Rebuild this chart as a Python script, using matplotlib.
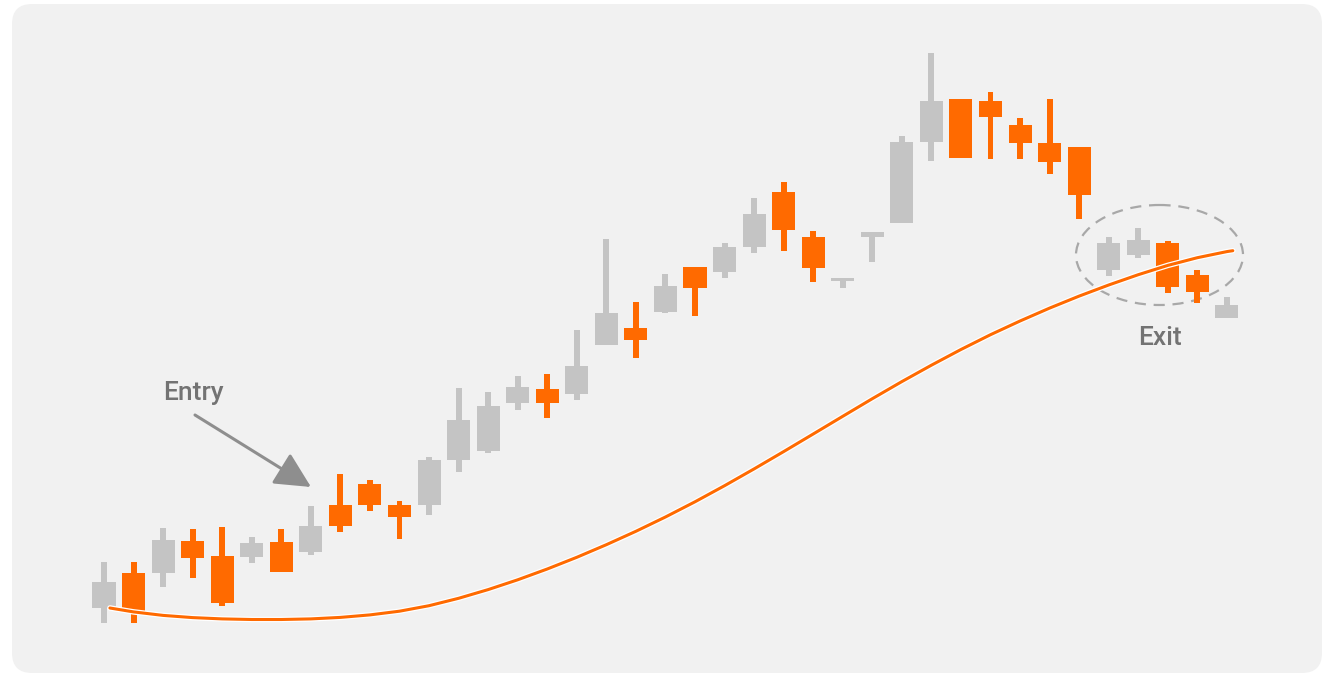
import matplotlib.pyplot as plt
import matplotlib.patheffects as pe
from matplotlib.patches import FancyBboxPatch, Ellipse

plt.rcParams['font.family'] = ['Roboto', 'DejaVu Sans']

# Candle data (price units)
opens  = [68, 103, 103, 135, 120, 119, 134, 124, 171, 192, 171, 171, 216, 225, 273, 287, 282, 331, 348, 364,
          409, 404, 429, 484, 439, 395, 439, 453, 534, 577, 575, 551, 533, 529, 406, 421, 433, 401, 358]
highs  = [114, 114, 148, 147, 149, 139, 147, 170, 202, 196, 175, 219, 288, 284, 300, 302, 346, 437, 374, 402,
          409, 433, 478, 494, 445, 398, 444, 540, 623, 577, 584, 558, 577, 529, 439, 448, 435, 406, 379]
lows   = [53, 53, 89, 98, 70, 113, 104, 121, 144, 165, 137, 161, 204, 223, 266, 258, 276, 331, 318, 363,
          360, 398, 423, 425, 394, 388, 414, 453, 515, 518, 517, 517, 502, 457, 400, 418, 383, 373, 358]
closes = [94, 65, 136, 118, 73, 133, 104, 150, 150, 171, 159, 216, 256, 270, 289, 273, 310, 363, 336, 390,
          388, 429, 462, 446, 408, 398, 444, 534, 575, 518, 559, 533, 514, 481, 433, 436, 389, 384, 371]

# Moving average curve
ma_x = [0.2] + list(range(1, 39)) + [38.2]
ma_y = [68, 64.1, 60.6, 58.4, 57.1, 56.5, 56.5, 57.1, 58.6, 61.1, 64.8, 70.3, 77.7, 86.4, 96.2, 107.0,
        118.7, 131.3, 144.7, 159.0, 174.2, 190.3, 207.1, 224.4, 242.0, 259.7, 277.3, 294.4, 310.8, 326.5,
        341.3, 355.0, 367.9, 379.9, 391.0, 401.3, 410.6, 418.3, 424.4, 425.3]

up_color = '#c4c4c4'
down_color = '#ff6a00'

fig = plt.figure(figsize=(13.28, 6.76), dpi=100)
fig.patch.set_facecolor('white')

# background panel + annotations, in pixel coords
bg = fig.add_axes([0, 0, 1, 1])
bg.set_xlim(0, 1328)
bg.set_ylim(676, 0)
bg.axis('off')
bg.add_patch(FancyBboxPatch((12, 4), 1310, 669, boxstyle="round,pad=0,rounding_size=20",
                            facecolor='#f1f1f1', edgecolor='none'))

# price chart
ax = fig.add_axes([0, 0, 1, 1])
ax.patch.set_alpha(0)
ax.set_xlim(-104 / 29.55, (1328 - 104) / 29.55)
ax.set_ylim(0, 676)
ax.axis('off')

for i in range(len(opens)):
    c = up_color if closes[i] >= opens[i] else down_color
    ax.bar(i, highs[i] - lows[i], bottom=lows[i], width=0.2, color=c, zorder=3)
    lo, hi = min(opens[i], closes[i]), max(opens[i], closes[i])
    ax.bar(i, max(hi - lo, 3), bottom=lo, width=0.78, color=c, zorder=3)

ax.plot(ma_x, ma_y, color=down_color, lw=2.2, zorder=5, solid_capstyle='round',
        path_effects=[pe.Stroke(linewidth=4, foreground='white'), pe.Normal()])

# annotations
bg.add_patch(Ellipse((1159.5, 255), 167, 100, fill=False, edgecolor='#a8a8a8',
                     lw=1.6, linestyle=(0, (5, 3.5))))
bg.annotate('', xy=(311, 487), xytext=(195, 415),
            arrowprops=dict(arrowstyle='-|>,head_length=1.0,head_width=0.5', mutation_scale=22,
                            color='#8e8e8e', lw=2.2, shrinkA=0, shrinkB=0))
bg.text(193, 393, 'Entry', fontsize=19, fontweight='medium', color='#737373', ha='center', va='center')
bg.text(1160, 338, 'Exit', fontsize=19, fontweight='medium', color='#737373', ha='center', va='center')

fig.savefig('out.png', dpi=100, facecolor='white')
